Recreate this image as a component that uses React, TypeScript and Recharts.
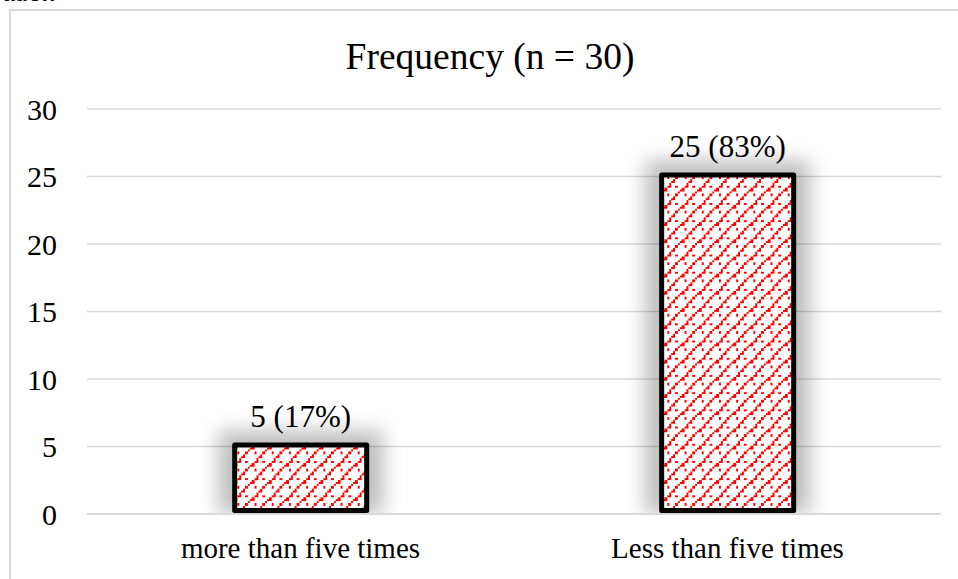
import React from 'react';
import { BarChart, Bar, XAxis, YAxis, CartesianGrid, LabelList } from 'recharts';

const categories = ['more than five times', 'Less than five times'];
const counts = [5, 25];
const pctLabels = ['5 (17%)', '25 (83%)'];
const yTicks = [0, 5, 10, 15, 20, 25, 30];

const data = categories.map((c, i) => ({ name: c, value: counts[i], label: pctLabels[i] }));

const FONT = '"Liberation Serif", "Times New Roman", serif';

// diamond-ish weave tile, 8x8 cells
const CELL = 2.15;
const patternCells: [number, number][] = [];
for (let i = 0; i < 8; i++) patternCells.push([i, (12 - i) % 8]);
for (let i = 0; i < 8; i += 2) patternCells.push([i, (i + 4) % 8]);
patternCells.push([5, 0], [1, 4], [3, 2]);

const PatternBar = (props: any) => {
  const { x, y, width, height, index } = props;
  if (!height) return null;
  const sw = 5;
  const bottom = y + height;
  return (
    <g>
      <defs>
        <clipPath id={`glowclip-${index}`}>
          <rect x={x - 80} y={y - 80} width={width + 160} height={height + 80 - 1} />
        </clipPath>
      </defs>
      <g clipPath={`url(#glowclip-${index})`}>
        <rect x={x - 14} y={y - 16} width={width + 28} height={height + 16} fill="#000" opacity={0.26} filter="url(#glow)" />
      </g>
      <rect
        x={x + sw / 2}
        y={y - sw / 2 + 1}
        width={width - sw}
        height={bottom - sw / 2 - 1 - (y - sw / 2 + 1)}
        fill="url(#weave)"
        stroke="#000"
        strokeWidth={sw}
        strokeLinejoin="round"
      />
    </g>
  );
};

const TopLabel = (props: any) => {
  const { x, y, width, value } = props;
  return (
    <text x={x + width / 2} y={y - 20} textAnchor="middle" fontFamily={FONT} fontSize={31} fill="#000">
      {value}
    </text>
  );
};

export default function App() {
  return (
    <div style={{ position: 'absolute', left: 0, top: 0, width: 958, height: 579, overflow: 'hidden', background: '#fff' }}>
      <div style={{ position: 'absolute', left: -6, top: -19, fontFamily: '"Liberation Sans", Arial, sans-serif', fontWeight: 'bold', fontSize: 22, color: '#000', whiteSpace: 'nowrap' }}>
        ration
      </div>
      <div style={{ position: 'absolute', left: 9, top: 9, width: 980, height: 620, border: '2px solid #d9d9d9', boxSizing: 'border-box' }} />
      <div style={{ position: 'absolute', left: 9, top: 9 }}>
        <svg width={0} height={0} style={{ position: 'absolute' }}>
          <defs>
            <pattern id="weave" patternUnits="userSpaceOnUse" width={CELL * 8} height={CELL * 8}>
              <rect x={0} y={0} width={CELL * 8} height={CELL * 8} fill="#fff" />
              {patternCells.map(([cx, cy], i) => (
                <rect key={i} x={cx * CELL} y={cy * CELL} width={CELL} height={CELL} fill="#ff0000" shapeRendering="crispEdges" />
              ))}
            </pattern>
            <filter id="glow" x="-50%" y="-50%" width="200%" height="200%">
              <feGaussianBlur stdDeviation={10} />
            </filter>
          </defs>
        </svg>
        <div style={{ position: 'absolute', left: 0, top: 25, width: 962, textAlign: 'center', fontFamily: FONT, fontSize: 37.5, color: '#000', lineHeight: '46px' }}>
          Frequency (n = 30)
        </div>
        <BarChart width={962} height={600} data={data} margin={{ top: 100, right: 30, left: 0, bottom: 35 }} barCategoryGap="34%">
          <CartesianGrid vertical={false} stroke="#d9d9d9" strokeWidth={1.5} />
          <XAxis
            dataKey="name"
            height={60}
            axisLine={{ stroke: '#d9d9d9', strokeWidth: 2 }}
            tickLine={false}
            tickMargin={17}
            tick={{ fontFamily: FONT, fontSize: 29, fill: '#000' }}
          />
          <YAxis
            width={78}
            domain={[0, 30]}
            ticks={yTicks}
            axisLine={false}
            tickLine={false}
            tickMargin={24}
            tick={{ fontFamily: FONT, fontSize: 30, fill: '#000' }}
          />
          <Bar dataKey="value" shape={<PatternBar />} isAnimationActive={false}>
            <LabelList dataKey="label" content={<TopLabel />} />
          </Bar>
        </BarChart>
      </div>
    </div>
  );
}
